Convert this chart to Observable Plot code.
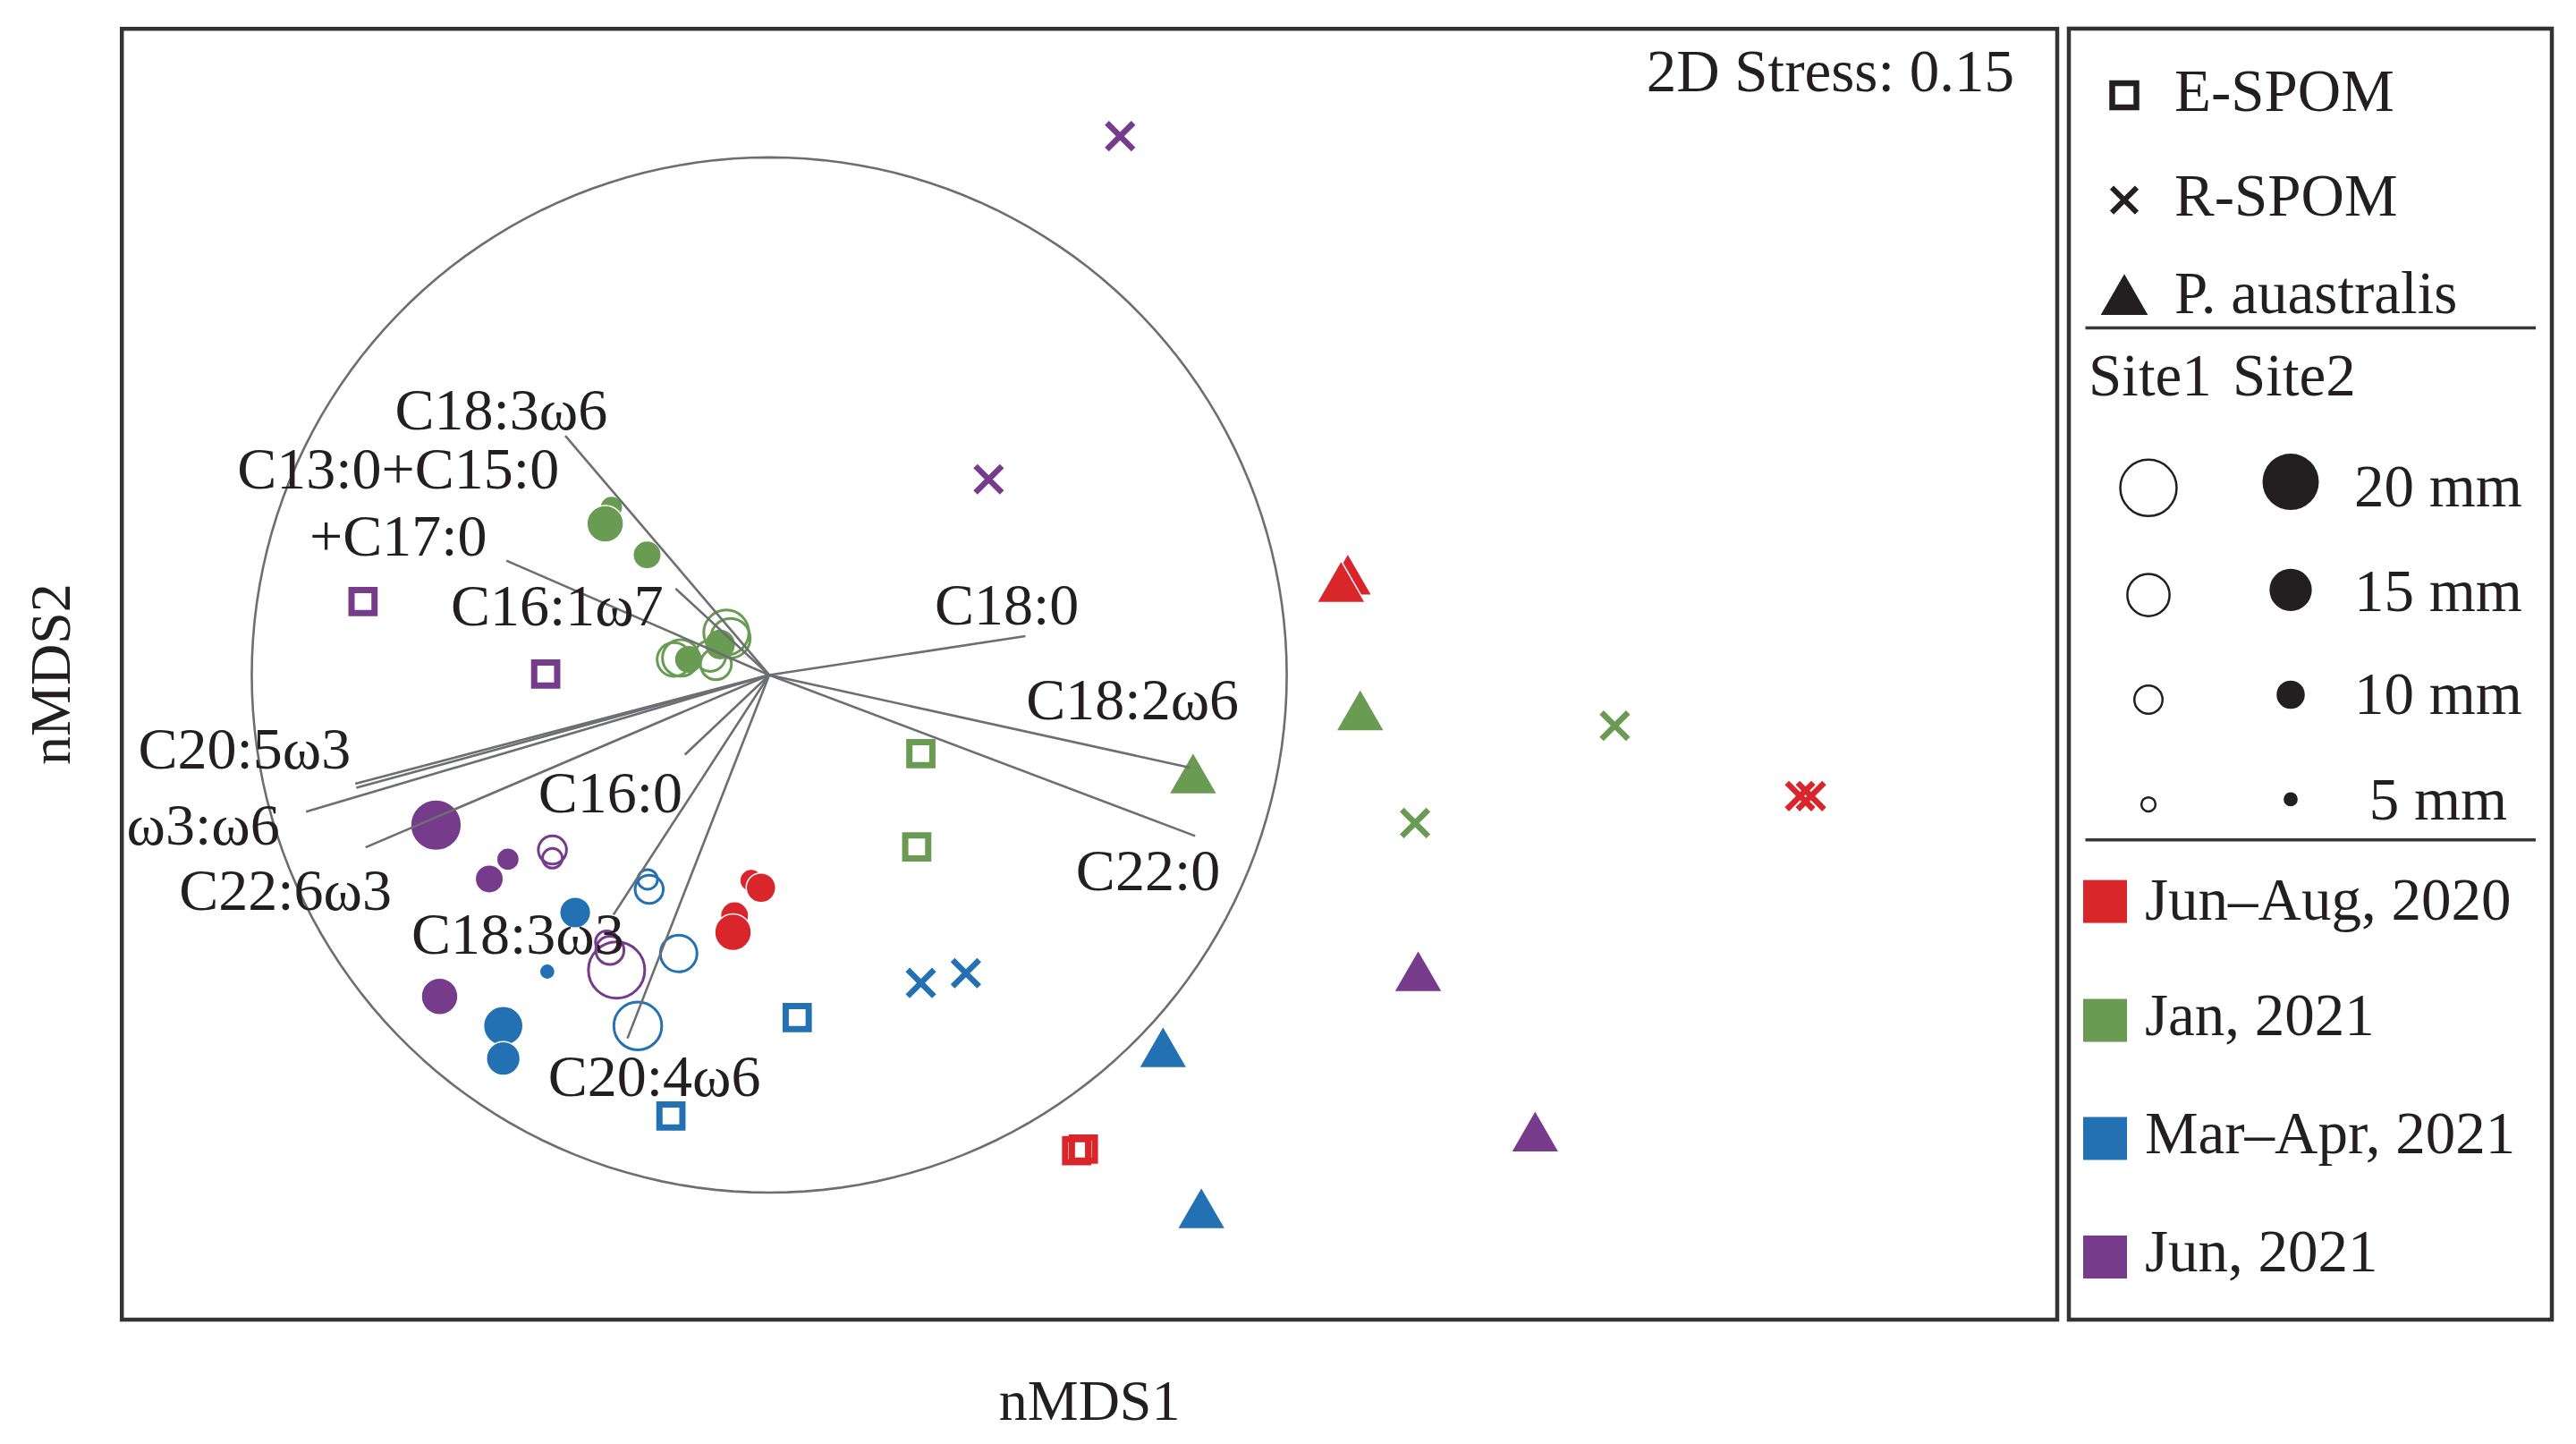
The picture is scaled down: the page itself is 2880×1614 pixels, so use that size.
<!DOCTYPE html>
<html>
<head>
<meta charset="utf-8">
<script src="https://cdn.jsdelivr.net/npm/d3@7"></script>
<script src="https://cdn.jsdelivr.net/npm/@observablehq/plot@0.6"></script>
<style>
  html, body { margin: 0; padding: 0; background: #fff; }
  #wrap { position: relative; width: 2880px; height: 1614px; overflow: hidden; }
  #chart { position: absolute; left: 0; top: 0; }
  #legend { position: absolute; left: 2307px; top: 0; }
</style>
</head>
<body>
<div id="wrap"><div id="chart"></div><div id="legend"></div></div>
<script>
// ---------------- data ----------------
const periods = ["Jun–Aug, 2020", "Jan, 2021", "Mar–Apr, 2021", "Jun, 2021"];
const periodColors = ["#d9262b", "#6a9b53", "#2371b2", "#773b8c"];

const sampleTypes = ["E-SPOM", "R-SPOM", "P. auastralis"];
const sizeClasses = [20, 15, 10, 5];          // mm
const sites = ["Site1", "Site2"];
const stressLabel = "2D Stress: 0.15";
const axisLabels = {x: "nMDS1", y: "nMDS2"};

// nMDS extents shown by the frame (ordination units, correlation circle radius = 1)
const xDomain = [-1.2511, 2.4889];
const yDomain = [-1.2454, 1.2484];

// individuals: site 1 = open, site 2 = filled; mm = body length
const circles = [
  {period: "Jun–Aug, 2020", site: 2, mm: 8,    x: -0.035, y: -0.397},
  {period: "Jun–Aug, 2020", site: 2, mm: 10.5, x: -0.016, y: -0.411},
  {period: "Jun–Aug, 2020", site: 2, mm: 10,   x: -0.067, y: -0.465},
  {period: "Jun–Aug, 2020", site: 2, mm: 13,   x: -0.070, y: -0.497},

  {period: "Jan, 2021", site: 2, mm: 8,  x: -0.305, y: 0.324},
  {period: "Jan, 2021", site: 2, mm: 13, x: -0.317, y: 0.292},
  {period: "Jan, 2021", site: 2, mm: 10, x: -0.236, y: 0.232},
  {period: "Jan, 2021", site: 2, mm: 11, x: -0.095, y: 0.059},
  {period: "Jan, 2021", site: 2, mm: 10, x: -0.156, y: 0.030},
  {period: "Jan, 2021", site: 1, mm: 16, x: -0.083, y: 0.082},
  {period: "Jan, 2021", site: 1, mm: 14, x: -0.075, y: 0.071},
  {period: "Jan, 2021", site: 1, mm: 11, x: -0.114, y: 0.037},
  {period: "Jan, 2021", site: 1, mm: 11, x: -0.103, y: 0.021},
  {period: "Jan, 2021", site: 1, mm: 13, x: -0.171, y: 0.033},
  {period: "Jan, 2021", site: 1, mm: 12, x: -0.184, y: 0.030},

  {period: "Mar–Apr, 2021", site: 2, mm: 11,  x: -0.375, y: -0.459},
  {period: "Mar–Apr, 2021", site: 2, mm: 5.5, x: -0.429, y: -0.573},
  {period: "Mar–Apr, 2021", site: 2, mm: 14,  x: -0.514, y: -0.678},
  {period: "Mar–Apr, 2021", site: 2, mm: 12,  x: -0.514, y: -0.741},
  {period: "Mar–Apr, 2021", site: 1, mm: 10,  x: -0.232, y: -0.414},
  {period: "Mar–Apr, 2021", site: 1, mm: 7,   x: -0.235, y: -0.395},
  {period: "Mar–Apr, 2021", site: 1, mm: 13,  x: -0.175, y: -0.538},
  {period: "Mar–Apr, 2021", site: 1, mm: 17,  x: -0.254, y: -0.678},

  {period: "Jun, 2021", site: 2, mm: 18, x: -0.644, y: -0.290},
  {period: "Jun, 2021", site: 2, mm: 8,  x: -0.505, y: -0.356},
  {period: "Jun, 2021", site: 2, mm: 10, x: -0.541, y: -0.394},
  {period: "Jun, 2021", site: 2, mm: 13, x: -0.637, y: -0.621},
  {period: "Jun, 2021", site: 1, mm: 10, x: -0.419, y: -0.338},
  {period: "Jun, 2021", site: 1, mm: 7,  x: -0.419, y: -0.354},
  {period: "Jun, 2021", site: 1, mm: 20, x: -0.295, y: -0.570},
  {period: "Jun, 2021", site: 1, mm: 10, x: -0.308, y: -0.532},
  {period: "Jun, 2021", site: 1, mm: 8,  x: -0.314, y: -0.516}
];

const espom = [
  {period: "Jun–Aug, 2020", x: 0.594, y: -0.919},
  {period: "Jun–Aug, 2020", x: 0.607, y: -0.916},
  {period: "Jan, 2021", x: 0.293, y: -0.152},
  {period: "Jan, 2021", x: 0.285, y: -0.332},
  {period: "Mar–Apr, 2021", x: 0.054, y: -0.662},
  {period: "Mar–Apr, 2021", x: -0.190, y: -0.852},
  {period: "Jun, 2021", x: -0.785, y: 0.142},
  {period: "Jun, 2021", x: -0.432, y: 0.002}
];

const rspom = [
  {period: "Jun–Aug, 2020", x: 1.992, y: -0.234},
  {period: "Jun–Aug, 2020", x: 2.013, y: -0.234},
  {period: "Jan, 2021", x: 1.634, y: -0.098},
  {period: "Jan, 2021", x: 1.248, y: -0.286},
  {period: "Mar–Apr, 2021", x: 0.293, y: -0.595},
  {period: "Mar–Apr, 2021", x: 0.380, y: -0.576},
  {period: "Jun, 2021", x: 0.678, y: 1.041},
  {period: "Jun, 2021", x: 0.424, y: 0.378}
];

const australis = [
  {period: "Jun–Aug, 2020", x: 1.118, y: 0.181},
  {period: "Jun–Aug, 2020", x: 1.105, y: 0.167},
  {period: "Jan, 2021", x: 1.142, y: -0.081},
  {period: "Jan, 2021", x: 0.819, y: -0.203},
  {period: "Mar–Apr, 2021", x: 0.761, y: -0.732},
  {period: "Mar–Apr, 2021", x: 0.835, y: -1.043},
  {period: "Jun, 2021", x: 1.254, y: -0.585},
  {period: "Jun, 2021", x: 1.480, y: -0.895}
];

// fatty-acid vectors (end points) and their label anchors (label baseline centre)
const vectors = [
  {name: "C18:3ω6",      x: -0.394, y: 0.462,  lx: -0.518, ly: 0.474},
  {name: "C13:0+C15:0",  x: -0.508, y: 0.221,  lx: -0.717, ly: 0.360},
  {name: "+C17:0",       x: null,   y: null,   lx: -0.717, ly: 0.230},
  {name: "C16:1ω7",      x: -0.181, y: 0.167,  lx: -0.410, ly: 0.096},
  {name: "C18:0",        x: 0.495,  y: 0.075,  lx: 0.459,  ly: 0.098},
  {name: "C18:2ω6",      x: 0.813,  y: -0.179, lx: 0.702,  ly: -0.086},
  {name: "C22:0",        x: 0.823,  y: -0.311, lx: 0.732,  ly: -0.415},
  {name: "C20:5ω3",      x: -0.798, y: -0.218, lx: -1.014, ly: -0.180},
  {name: "",             x: -0.800, y: -0.210, lx: null,   ly: null},
  {name: "ω3:ω6",        x: -0.895, y: -0.264, lx: -1.094, ly: -0.327},
  {name: "C22:6ω3",      x: -0.780, y: -0.333, lx: -0.935, ly: -0.454},
  {name: "C16:0",        x: -0.163, y: -0.154, lx: -0.307, ly: -0.266},
  {name: "C18:3ω3",      x: -0.301, y: -0.463, lx: -0.486, ly: -0.538},
  {name: "C20:4ω6",      x: -0.274, y: -0.702, lx: -0.222, ly: -0.814}
];

// unit correlation circle
const unitCircle = d3.range(0, 361, 2).map(a => ({x: Math.cos(a * Math.PI / 180), y: Math.sin(a * Math.PI / 180)}));

// ---------------- styles ----------------
const ink = "#231f20";
const font = "'Liberation Serif', 'Times New Roman', serif";
const gray = "#6d6e71";
const rOptions = {type: "linear", domain: [0, 20], range: [0, 31.5]};

// ---------------- main plot ----------------
const chart = Plot.plot({
  width: 2307,
  height: 1614,
  marginLeft: 135.7,
  marginRight: 7.5,
  marginTop: 31.7,
  marginBottom: 139.5,
  x: {domain: xDomain, axis: null},
  y: {domain: yDomain, axis: null},
  r: rOptions,
  color: {type: "ordinal", domain: periods, range: periodColors},
  style: {fontFamily: font, background: "white", color: ink, overflow: "visible"},
  marks: [
    Plot.line(unitCircle, {x: "x", y: "y", stroke: gray, strokeWidth: 2.6}),
    Plot.dot(circles.filter(d => d.site === 2), {x: "x", y: "y", r: "mm", fill: "period", stroke: "white", strokeWidth: 1.5, sort: null}),
    Plot.dot(circles.filter(d => d.site === 1), {x: "x", y: "y", r: "mm", fill: "none", stroke: "period", strokeWidth: 3, sort: null}),
    Plot.dot(espom, {x: "x", y: "y", symbol: "square", r: 14.5, fill: "none", stroke: "period", strokeWidth: 7}),
    Plot.dot(rspom, {x: "x", y: "y", symbol: "times", r: 13.5, stroke: "period", strokeWidth: 6.5}),
    Plot.dot(australis, {x: "x", y: "y", symbol: "triangle", r: 20, fill: "period", stroke: "white", strokeWidth: 1.5}),
    Plot.link(vectors.filter(d => d.x != null), {x1: () => 0, y1: () => 0, x2: "x", y2: "y", stroke: gray, strokeWidth: 2.6}),
    Plot.text(vectors.filter(d => d.name), {x: "lx", y: "ly", text: "name", textAnchor: "middle", lineAnchor: "bottom", fontSize: 66, fill: ink}),
    Plot.text([stressLabel], {text: d => d, frameAnchor: "top-right", textAnchor: "end", lineAnchor: "bottom", dx: -48, dy: 70, fontSize: 67, fill: ink}),
    Plot.text([axisLabels.x], {text: d => d, frameAnchor: "bottom", textAnchor: "middle", lineAnchor: "bottom", dy: 111.5, fontSize: 64, fill: ink}),
    Plot.text([axisLabels.y], {text: d => d, frameAnchor: "left", rotate: -90, textAnchor: "middle", lineAnchor: "bottom", dx: -58.7, fontSize: 64, fill: ink}),
    Plot.frame({stroke: "#333", strokeWidth: 4.5})
  ]
});
document.getElementById("chart").appendChild(chart);

// ---------------- legend ----------------
const rScale = Plot.scale({r: rOptions});
const colorOf = d3.scaleOrdinal(periods, periodColors);

const leg = d3.create("svg")
  .attr("width", 573).attr("height", 1614)
  .attr("viewBox", "2307 0 573 1614")
  .style("display", "block")
  .attr("font-family", font)
  .attr("font-size", 67)
  .attr("fill", ink);

leg.append("rect")
  .attr("x", 2313).attr("y", 32).attr("width", 540).attr("height", 1443)
  .attr("fill", "white").attr("stroke", "#333").attr("stroke-width", 4.5);

// sample-type symbols
const shapeRows = [
  {label: sampleTypes[0], type: d3.symbolSquare, size: 729, stroke: true, sw: 6.5, cy: 106.6, base: 124},
  {label: sampleTypes[1], type: d3.symbolTimes, size: 513, stroke: true, sw: 6, cy: 223.6, base: 240.7},
  {label: sampleTypes[2], type: d3.symbolTriangle, size: 1200, stroke: false, sw: 0, cy: 336.7, base: 350}
];
for (const row of shapeRows) {
  leg.append("path")
    .attr("d", d3.symbol(row.type, row.size)())
    .attr("transform", `translate(2375,${row.cy})`)
    .attr("fill", row.stroke ? "none" : ink)
    .attr("stroke", row.stroke ? ink : "none")
    .attr("stroke-width", row.sw);
  leg.append("text").attr("x", 2431).attr("y", row.base).text(row.label);
}

leg.append("line").attr("x1", 2331.5).attr("x2", 2835).attr("y1", 366.4).attr("y2", 366.4)
  .attr("stroke", "#3a3536").attr("stroke-width", 3.5);

leg.append("text").attr("x", 2335).attr("y", 442).text(sites[0]);
leg.append("text").attr("x", 2496).attr("y", 442).text(sites[1]);

const sizeRowsY = [
  {open: 545.3, filled: 538.6, base: 566},
  {open: 665, filled: 659.4, base: 683},
  {open: 782, filled: 776.5, base: 798},
  {open: 899, filled: 893.4, base: 915.7}
];
sizeClasses.forEach((mm, i) => {
  const row = sizeRowsY[i];
  leg.append("circle").attr("cx", 2402).attr("cy", row.open).attr("r", rScale.apply(mm))
    .attr("fill", "none").attr("stroke", ink).attr("stroke-width", 2.5);
  leg.append("circle").attr("cx", 2561).attr("cy", row.filled).attr("r", rScale.apply(mm))
    .attr("fill", ink);
  leg.append("text").attr("x", 2726).attr("y", row.base).attr("text-anchor", "middle").text(`${mm} mm`);
});

leg.append("line").attr("x1", 2331.5).attr("x2", 2835).attr("y1", 938.7).attr("y2", 938.7)
  .attr("stroke", "#3a3536").attr("stroke-width", 3.5);

const swatchY = [1007.6, 1140.5, 1272.5, 1405];
const swatchBase = [1027.7, 1156.8, 1288.9, 1421];
periods.forEach((p, i) => {
  leg.append("rect").attr("x", 2329).attr("y", swatchY[i] - 24).attr("width", 49).attr("height", 48)
    .attr("fill", colorOf(p));
  leg.append("text").attr("x", 2398).attr("y", swatchBase[i]).text(p);
});

document.getElementById("legend").appendChild(leg.node());
</script>
</body>
</html>
